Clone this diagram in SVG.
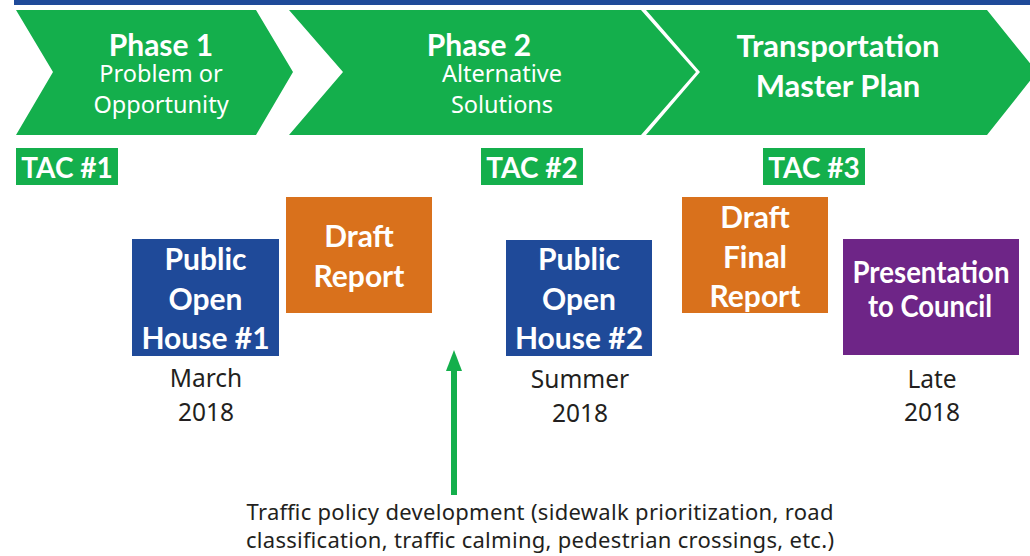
<svg xmlns="http://www.w3.org/2000/svg" width="1030" height="556" viewBox="0 0 1030 556">
<defs>
<style>
.chev{fill:#14af4c}
.tac{fill:#14af4c}
.blue{fill:#1f4a99}
.orange{fill:#d9711c}
.purple{fill:#6e2587}
.hd{font-family:Lato,"Open Sans",sans-serif;font-weight:bold;fill:#fff;text-anchor:middle}
.sub{font-family:"Noto Sans","Open Sans",sans-serif;font-weight:normal;fill:#fff;text-anchor:middle;font-size:23.5px}
.bx{font-family:Lato,"Open Sans",sans-serif;font-weight:bold;fill:#fff;text-anchor:middle;font-size:30px}
.dt{font-family:"Noto Sans","Open Sans",sans-serif;fill:#231f20;text-anchor:middle;font-size:24.5px}
.note{font-family:"Noto Sans","Open Sans",sans-serif;fill:#231f20;text-anchor:middle;font-size:22px}
.conn{stroke:#14af4c;stroke-width:6;fill:none}
.head{fill:#14af4c}
</style>
</defs>
<rect x="14" y="0" width="1016" height="5" fill="#1f4a99"/>
<g id="phase1">
<polygon class="chev" points="16,10 256,10 293,72 256,135 16,135 53,72"/>
<text class="hd" x="161" y="56" font-size="30">Phase 1</text>
<text class="sub" x="161" y="82">Problem or</text>
<text class="sub" x="161" y="113">Opportunity</text>
</g>
<g id="phase2">
<polygon class="chev" points="289,10 641,10 696,72 641,135 289,135 343,72"/>
<text class="hd" x="479" y="56" font-size="30">Phase 2</text>
<text class="sub" x="502" y="82">Alternative</text>
<text class="sub" x="502" y="113">Solutions</text>
</g>
<g id="tmp">
<polygon class="chev" points="646,10 987,10 1037,72 987,135 646,135 700,72"/>
<text class="hd" x="838" y="57" font-size="31">Transportation</text>
<text class="hd" x="838" y="97" font-size="31">Master Plan</text>
</g>
<g id="tac1">
<rect class="tac" x="16" y="148" width="102" height="37"/>
<text class="hd" x="67" y="178" font-size="28">TAC #1</text>
</g>
<g id="tac2">
<rect class="tac" x="481" y="148" width="102" height="37"/>
<text class="hd" x="532" y="178" font-size="28">TAC #2</text>
</g>
<g id="tac3">
<rect class="tac" x="763" y="148" width="102" height="37"/>
<text class="hd" x="814" y="178" font-size="28">TAC #3</text>
</g>
<g id="poh1">
<rect class="blue" x="132" y="239" width="147" height="117"/>
<text class="bx" x="205.5" y="270">Public</text>
<text class="bx" x="205.5" y="310">Open</text>
<text class="bx" x="205.5" y="349">House #1</text>
<text class="dt" x="206" y="387">March</text>
<text class="dt" x="206" y="421">2018</text>
</g>
<g id="draft">
<rect class="orange" x="286" y="197" width="146" height="116"/>
<text class="bx" x="359" y="247">Draft</text>
<text class="bx" x="359" y="287">Report</text>
</g>
<g id="poh2">
<rect class="blue" x="506" y="240" width="146" height="116"/>
<text class="bx" x="579" y="270">Public</text>
<text class="bx" x="579" y="310">Open</text>
<text class="bx" x="579" y="349">House #2</text>
<text class="dt" x="580" y="388">Summer</text>
<text class="dt" x="580" y="422">2018</text>
</g>
<g id="draftfinal">
<rect class="orange" x="682" y="197" width="146" height="116"/>
<text class="bx" x="755" y="228">Draft</text>
<text class="bx" x="755" y="268">Final</text>
<text class="bx" x="755" y="307">Report</text>
</g>
<g id="council">
<rect class="purple" x="843" y="239" width="176" height="116"/>
<text class="bx" x="931" y="283" font-size="26" textLength="157" lengthAdjust="spacingAndGlyphs">Presentation</text>
<text class="bx" x="930" y="317" font-size="26" textLength="124" lengthAdjust="spacingAndGlyphs">to Council</text>
<text class="dt" x="932" y="388">Late</text>
<text class="dt" x="932" y="421">2018</text>
</g>
<g id="traffic">
<text class="note" x="540" y="520" textLength="587" lengthAdjust="spacing">Traffic policy development (sidewalk prioritization, road</text>
<text class="note" x="540" y="548" textLength="588" lengthAdjust="spacing">classification, traffic calming, pedestrian crossings, etc.)</text>
</g>
<g id="connectors">
<line class="conn" x1="454" y1="495" x2="454" y2="368"/>
<polygon class="head" points="454,350 462,371 446,371"/>
</g>
</svg>
